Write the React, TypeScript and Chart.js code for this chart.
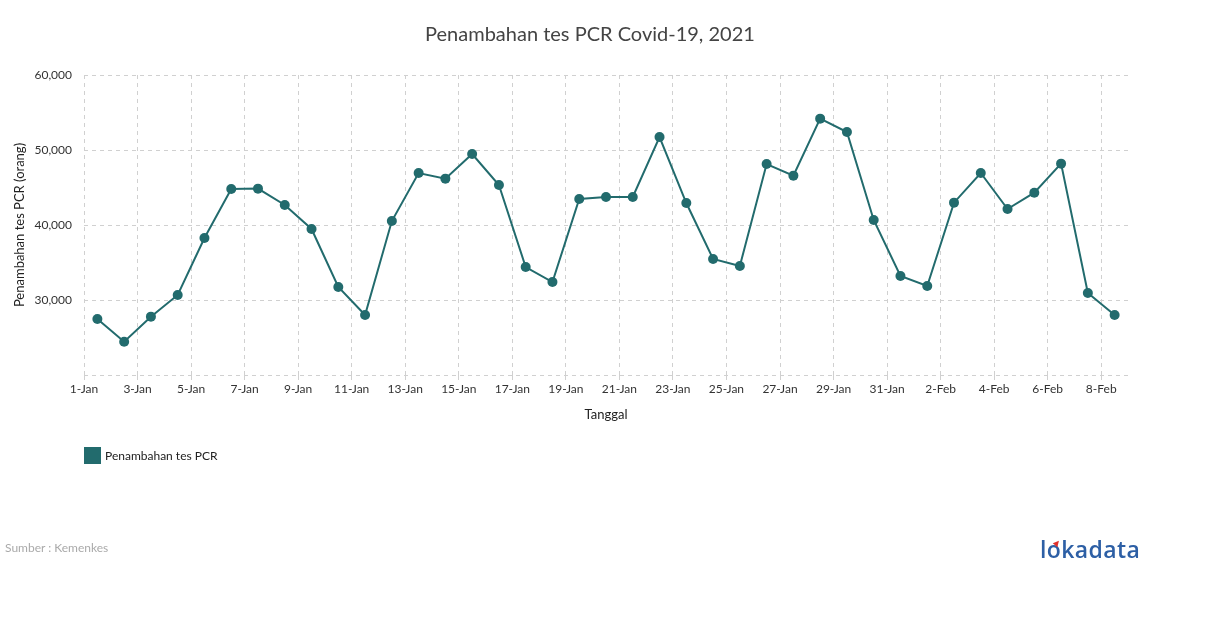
import React, { useEffect, useRef } from "react";
import { Chart, registerables } from "chart.js";

Chart.register(...registerables);

const dateLabels: string[] = [
  "1-Jan", "2-Jan", "3-Jan", "4-Jan", "5-Jan", "6-Jan", "7-Jan", "8-Jan", "9-Jan", "10-Jan",
  "11-Jan", "12-Jan", "13-Jan", "14-Jan", "15-Jan", "16-Jan", "17-Jan", "18-Jan", "19-Jan", "20-Jan",
  "21-Jan", "22-Jan", "23-Jan", "24-Jan", "25-Jan", "26-Jan", "27-Jan", "28-Jan", "29-Jan", "30-Jan",
  "31-Jan", "1-Feb", "2-Feb", "3-Feb", "4-Feb", "5-Feb", "6-Feb", "7-Feb", "8-Feb",
];

const pcrTests: number[] = [
  27470, 24440, 27780, 30670, 38270, 44800, 44850, 42670, 39470, 31730,
  28000, 40530, 46930, 46180, 49470, 45330, 34400, 32400, 43470, 43730,
  43730, 51730, 42930, 35470, 34530, 48130, 46580, 54180, 52400, 40670,
  33200, 31870, 42980, 46930, 42130, 44310, 48180, 30930, 28000,
];

const yTicks: number[] = [20000, 30000, 40000, 50000, 60000];

const seriesName = "Penambahan tes PCR";
const titleText = "Penambahan tes PCR Covid-19, 2021";
const yTitle = "Penambahan tes PCR (orang)";
const xTitle = "Tanggal";
const sourceText = "Sumber : Kemenkes";

const COLOR = "#226b6d";
const FONT = "Lato, 'Open Sans', sans-serif";

export default function App() {
  const ref = useRef<HTMLCanvasElement | null>(null);

  useEffect(() => {
    if (!ref.current) return;
    const chart = new Chart(ref.current, {
      type: "line",
      data: {
        datasets: [
          {
            label: seriesName,
            data: pcrTests.map((v, i) => ({ x: i + 0.5, y: v })),
            borderColor: COLOR,
            backgroundColor: COLOR,
            borderWidth: 2,
            pointRadius: 5,
            pointHoverRadius: 5,
            pointBackgroundColor: COLOR,
            pointBorderColor: COLOR,
            pointBorderWidth: 0,
            tension: 0,
          },
        ],
      },
      options: {
        responsive: false,
        animation: false,
        layout: { padding: { left: 12, right: 82, top: 75, bottom: 205 } },
        plugins: {
          legend: { display: false },
          title: { display: false },
          tooltip: { enabled: false },
        },
        scales: {
          x: {
            type: "linear",
            min: 0,
            max: dateLabels.length,
            afterFit: (scale: any) => {
              scale.height = 48;
            },
            ticks: {
              stepSize: 2,
              includeBounds: false,
              autoSkip: false,
              maxRotation: 0,
              minRotation: 0,
              maxTicksLimit: 100,
              padding: 2,
              color: "#333",
              font: { family: FONT, size: 12 },
              callback: (v: any) => {
                const n = Number(v);
                return Number.isInteger(n) && n % 2 === 0 && n < dateLabels.length ? dateLabels[n] : "";
              },
            },
            grid: { color: "#d0d0d0", lineWidth: 1, tickLength: 5, drawTicks: true },
            border: { display: false, dash: [4, 4] },
            title: {
              display: true,
              text: xTitle,
              color: "#222",
              font: { family: FONT, size: 13 },
              padding: { top: 0, bottom: 0 },
            },
          },
          y: {
            type: "linear",
            min: yTicks[0],
            max: yTicks[yTicks.length - 1],
            afterFit: (scale: any) => {
              scale.width = 72;
            },
            afterBuildTicks: (scale: any) => {
              scale.ticks = yTicks.map((v) => ({ value: v }));
            },
            ticks: {
              padding: 12,
              color: "#333",
              font: { family: FONT, size: 12 },
              callback: (v: any) => (Number(v) === yTicks[0] ? "" : Number(v).toLocaleString("en-US")),
            },
            grid: { color: "#d0d0d0", lineWidth: 1, drawTicks: false },
            border: { display: false, dash: [4, 4] },
            title: {
              display: true,
              text: yTitle,
              color: "#222",
              font: { family: FONT, size: 13 },
              padding: { top: 0, bottom: 0 },
            },
          },
        },
      },
    });
    return () => chart.destroy();
  }, []);

  return (
    <div style={{ position: "fixed", left: 0, top: 0, width: 1210, height: 628, background: "#fff", fontFamily: FONT }}>
      <canvas ref={ref} width={1210} height={628} style={{ position: "absolute", left: 0, top: 0, width: 1210, height: 628 }} />
      <div style={{ position: "absolute", left: 0, top: 20, width: 1180, textAlign: "center", fontSize: 20, color: "#444", lineHeight: "26px" }}>
        {titleText}
      </div>
      <div style={{ position: "absolute", left: 84, top: 447, display: "flex", alignItems: "center" }}>
        <span style={{ display: "inline-block", width: 17, height: 17, background: COLOR }} />
        <span style={{ marginLeft: 4, fontSize: 12, color: "#222" }}>{seriesName}</span>
      </div>
      <div style={{ position: "absolute", left: 5, top: 540, fontSize: 12, color: "#aaa" }}>{sourceText}</div>
      <div style={{ position: "absolute", left: 1040, top: 535, fontSize: 23, lineHeight: "28px", color: "#2d5fa5", fontFamily: "'Open Sans', sans-serif", fontWeight: 600, letterSpacing: 0.4 }}>
        l<span style={{ position: "relative" }}>o<span style={{ position: "absolute", left: 7, top: 7, width: 0, height: 0, borderLeft: "3px solid transparent", borderRight: "3px solid transparent", borderBottom: "6px solid #e0312b", transform: "rotate(40deg)" }} /></span>kadata
      </div>
    </div>
  );
}
